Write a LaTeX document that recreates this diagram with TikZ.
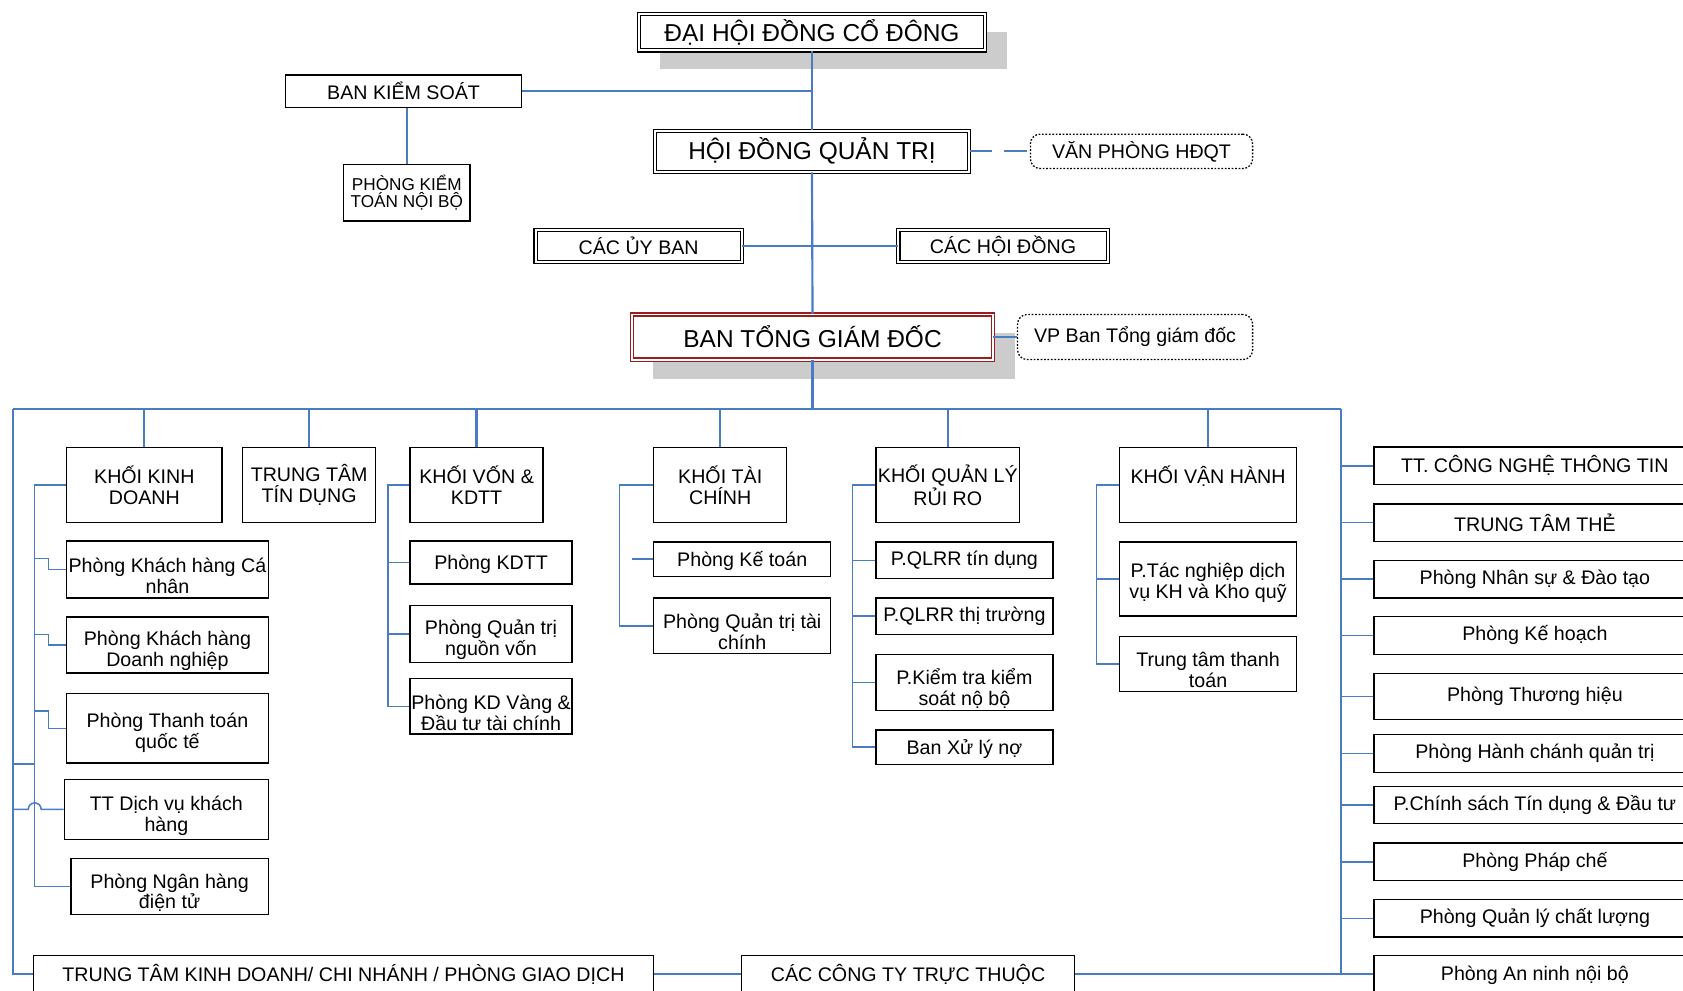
\documentclass[tikz,border=0pt]{standalone}
\usepackage{fontspec}
\setmainfont{Liberation Sans}
\usetikzlibrary{backgrounds,calc}
\definecolor{lnblue}{RGB}{74,124,196}
\definecolor{shgray}{RGB}{204,204,204}
\definecolor{dred}{RGB}{150,30,30}
\newcommand{\lowfirst}[1][25pt]{\rule{0pt}{#1}}
\begin{document}
\begin{tikzpicture}[x=1pt,y=-1pt,
  bx/.style={draw=black,line width=1.3pt,fill=white,inner sep=0pt,align=center,
    font=\fontsize{18.3}{19.5}\selectfont},
  bigf/.style={font=\fontsize{22.8}{24}\selectfont},
  smallf/.style={font=\fontsize{16}{16.5}\selectfont},
  dbl/.style={bx,double=white,double distance=1.8pt,line width=1.1pt},
  dblred/.style={dbl,draw=dred},
  dotbox/.style={bx,line width=1.2pt,dash pattern=on 1.6pt off 1.6pt,rounded corners=9pt},
  main/.style={draw=lnblue,line width=2pt},
  sub/.style={draw=lnblue,line width=1.4pt},
  rbox/.style={bx,minimum width=300,minimum height=35},
]
\path[use as bounding box,clip] (0,0) rectangle (1568,923);

% ---- top levels
\node[dbl,bigf,minimum width=323,minimum height=34] (dh) at (756.5,30) {ĐẠI HỘI ĐỒNG CỔ ĐÔNG};
\node[bx,minimum width=220,minimum height=30] (bks) at (376,85) {BAN KIỂM SOÁT};
\node[bx,smallf,minimum width=118,minimum height=53] (pktnb) at (379,179.5) {PHÒNG KIỂM\\TOÁN NỘI BỘ};
\node[dbl,bigf,minimum width=293,minimum height=38] (hdqt) at (756.5,141) {HỘI ĐỒNG QUẢN TRỊ};
\node[dotbox,minimum width=207,minimum height=32] (vphdqt) at (1063.5,141) {VĂN PHÒNG HĐQT};
\node[dbl,minimum width=192,minimum height=30] (cub) at (595,229) {CÁC ỦY BAN};
\node[dbl,minimum width=195,minimum height=30] (chd) at (934.5,229) {CÁC HỘI ĐỒNG};
\node[dblred,bigf,minimum width=336,minimum height=42] (btgd) at (757,314) {BAN TỔNG GIÁM ĐỐC};
\node[dotbox,minimum width=219,minimum height=42] (vpbtgd) at (1057.5,314) {VP Ban Tổng giám đốc};

\begin{scope}[on background layer]
  \fill[shgray] ($(dh.south west)+(20,17)$) rectangle ($(dh.north east)+(20,17)$);
  \fill[shgray] ($(btgd.south west)+(20,18)$) rectangle ($(btgd.north east)+(20,18)$);
\end{scope}

% ---- blocks
\node[bx,minimum width=145,minimum height=70] (kkd) at (134.5,452) {KHỐI KINH\\DOANH};
\node[bx,minimum width=124,minimum height=70] (tttd) at (288,452) {TRUNG TÂM\\TÍN DỤNG};
\node[bx,minimum width=124,minimum height=70] (kvon) at (444,452) {KHỐI VỐN \&\\KDTT};
\node[bx,minimum width=124,minimum height=70] (ktc) at (671,452) {KHỐI TÀI\\CHÍNH};
\node[bx,minimum width=134,minimum height=70] (kqlrr) at (883,452) {KHỐI QUẢN LÝ\\RỦI RO};
\node[bx,minimum width=165,minimum height=70] (kvh) at (1125.5,452) {KHỐI VẬN HÀNH\\~};

% KKD children
\node[bx,minimum width=188,minimum height=53] (kd1) at (156,530.5) {\lowfirst Phòng Khách hàng Cá\\nhân};
\node[bx,minimum width=188,minimum height=52] (kd2) at (156,601) {\lowfirst Phòng Khách hàng\\Doanh nghiệp};
\node[bx,minimum width=188,minimum height=65] (kd3) at (156,678.5) {\lowfirst[22pt]Phòng Thanh toán\\quốc tế};
\node[bx,minimum width=190,minimum height=56] (kd4) at (155,754) {\lowfirst TT Dịch vụ khách\\hàng};
\node[bx,minimum width=184,minimum height=52] (kd5) at (158,826) {\lowfirst Phòng Ngân hàng\\điện tử};

% KVON children
\node[bx,minimum width=151,minimum height=40] (kv1) at (457.5,524) {\lowfirst[17pt]Phòng KDTT};
\node[bx,minimum width=151,minimum height=53] (kv2) at (457.5,590.5) {\lowfirst Phòng Quản trị\\nguồn vốn};
\node[bx,minimum width=151,minimum height=52] (kv3) at (457.5,658) {\lowfirst Phòng KD Vàng \&\\Đầu tư tài chính};

% KTC children
\node[bx,minimum width=165,minimum height=32] (kt1) at (691.5,521) {\lowfirst[17pt]Phòng Kế toán};
\node[bx,minimum width=165,minimum height=52] (kt2) at (691.5,583) {\lowfirst Phòng Quản trị tài\\chính};

% KQLRR children
\node[bx,minimum width=165,minimum height=34] (kq1) at (898.5,522) {P.QLRR tín dụng};
\node[bx,minimum width=165,minimum height=34] (kq2) at (898.5,574) {P.QLRR thị trường};
\node[bx,minimum width=165,minimum height=52] (kq3) at (898.5,636) {\lowfirst P.Kiểm tra kiểm\\soát nộ bộ};
\node[bx,minimum width=165,minimum height=32] (kq4) at (898.5,696) {\lowfirst[17pt]Ban Xử lý nợ};

% KVH children
\node[bx,minimum width=165,minimum height=69] (kh1) at (1125.5,539.5) {\lowfirst[20pt]P.Tác nghiệp dịch\\vụ KH và Kho quỹ};
\node[bx,minimum width=165,minimum height=51] (kh2) at (1125.5,618.5) {\lowfirst Trung tâm thanh\\toán};

% right column
\node[rbox] (ra1) at (1430,434) {TT. CÔNG NGHỆ THÔNG TIN};
\node[rbox] (ra2) at (1430,487) {TRUNG TÂM THẺ};
\node[rbox] (ra3) at (1430,539.5) {Phòng Nhân sự \& Đào tạo};
\node[rbox] (ra4) at (1430,592) {Phòng Kế hoạch};
\node[rbox,minimum height=43] (ra5) at (1430,649) {Phòng Thương hiệu};
\node[rbox] (ra6) at (1430,702) {Phòng Hành chánh quản trị};
\node[rbox] (ra7) at (1430,750) {P.Chính sách Tín dụng \& Đầu tư};
\node[rbox] (ra8) at (1430,803) {Phòng Pháp chế};
\node[rbox] (ra9) at (1430,855.5) {Phòng Quản lý chất lượng};
\node[rbox] (ra10) at (1430,907.5) {\lowfirst[16pt]Phòng An ninh nội bộ};

% bottom
\node[bx,minimum width=578,minimum height=35] (ttkd) at (320,907.5) {TRUNG TÂM KINH DOANH/ CHI NHÁNH / PHÒNG GIAO DỊCH};
\node[bx,minimum width=310,minimum height=35] (cctt) at (846,907.5) {CÁC CÔNG TY TRỰC THUỘC};

% ---- connectors top
\draw[main] (dh.south) -- (hdqt.north);
\draw[main] (bks.east) -- (bks.east -| dh.south);
\draw[main] (pktnb.north) -- (pktnb.north |- bks.south);
\draw[main] (hdqt.south) -- (btgd.north);
\draw[main] (cub.east) -- (chd.west);
\draw[main,dash pattern=on 21pt off 11pt] (hdqt.east) -- (vphdqt.west);
\draw[sub] (btgd.east) -- (vpbtgd.west);

% bus
\coordinate (busL) at (12,381);
\coordinate (busR) at (1249,381);
\draw[main] (btgd.south) -- (btgd.south |- busL);
\draw[main] (busL) -- (busR);
\foreach \n in {kkd,tttd,kvon,ktc,kqlrr,kvh} \draw[main] (\n.north) -- (\n.north |- busL);
\draw[sub] (busL) |- (ttkd.west);
\draw[main] (busR) |- (ra10.west);
\foreach \r in {ra1,ra2,ra3,ra4,ra5,ra6,ra7,ra8,ra9} \draw[sub] (\r.west) -- (\r.west -| busR);
\draw[sub] (ttkd.east) -- (cctt.west);
\draw[sub] (cctt.east) -- (cctt.east -| busR);

% KKD tree
\draw[sub] (kkd.west) -- ++(-29,0) coordinate (kks) |- (kd5.west);
\draw[sub] (kd1.west) -- ++(-16,0) -- ++(0,-10) -- ++(-13,0);
\draw[sub] (kd2.west) -- ++(-16,0) -- ++(0,-10) -- ++(-13,0);
\draw[sub] (kd3.west) -- ++(-16,0) -- ++(0,-16) -- ++(-13,0);
\coordinate (j1) at (12,712);
\draw[sub] (j1) -- (j1 -| kks);
\draw[sub] (kd4.west) -- ++(-21,0) arc[start angle=0,end angle=180,radius=6pt] -- ++(-15,0);

% KVON tree
\draw[sub] (kvon.west) -- ++(-20,0) coordinate (kvs) |- (kv3.west);
\draw[sub] (kv1.west) -- (kv1.west -| kvs);
\draw[sub] (kv2.west) -- (kv2.west -| kvs);

% KTC tree
\draw[sub] (ktc.west) -- ++(-31,0) coordinate (kts) |- (kt2.west);
\draw[sub] (kt1.west) -- ++(-20,0);

% KQLRR tree
\draw[sub] (kqlrr.west) -- ++(-21,0) coordinate (kqs) |- (kq4.west);
\foreach \q in {kq1,kq2,kq3} \draw[sub] (\q.west) -- (\q.west -| kqs);

% KVH tree
\draw[sub] (kvh.west) -- ++(-21,0) coordinate (khs) |- (kh2.west);
\draw[sub] (kh1.west) -- (kh1.west -| khs);
\end{tikzpicture}
\end{document}
